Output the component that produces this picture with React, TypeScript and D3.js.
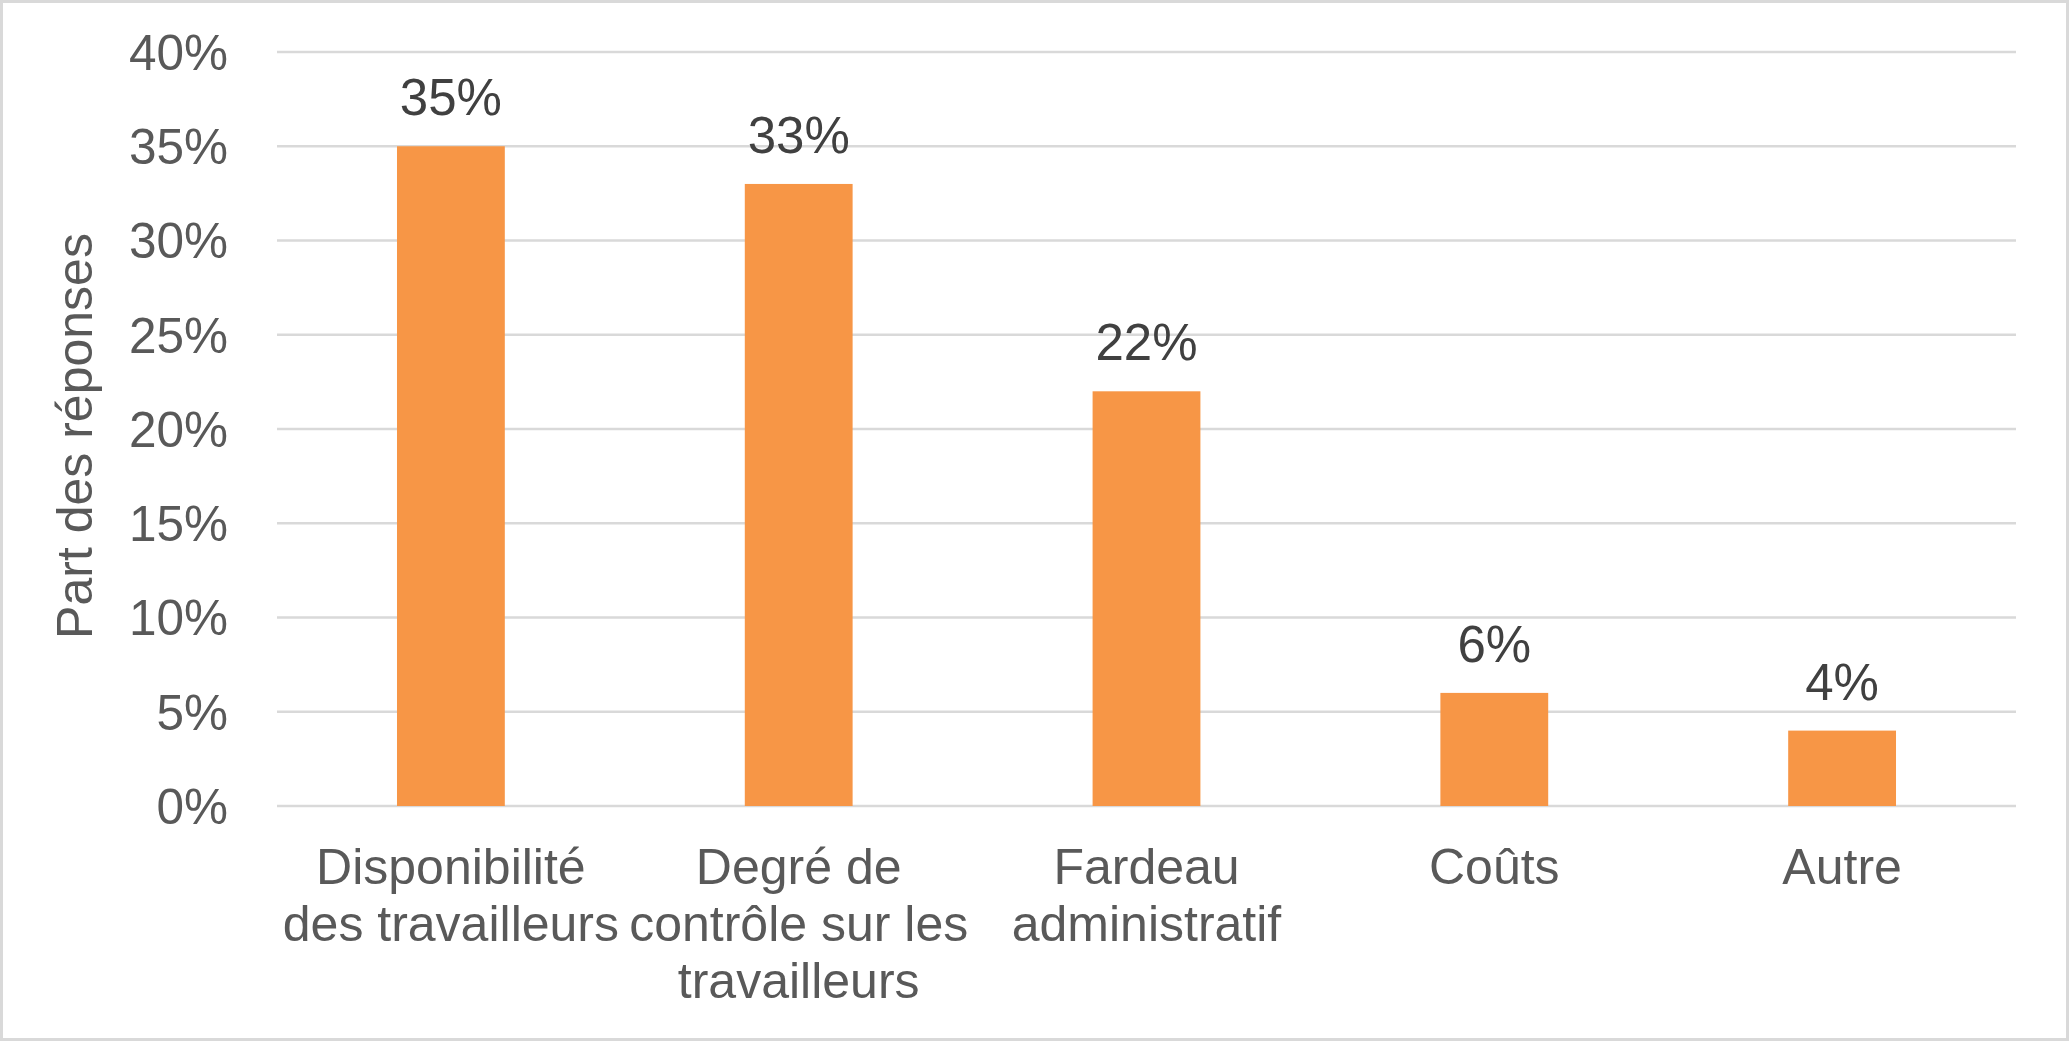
import React from "react";
import * as d3 from "d3";

const categories: string[] = [
  "Disponibilité des travailleurs",
  "Degré de contrôle sur les travailleurs",
  "Fardeau administratif",
  "Coûts",
  "Autre",
];
const categoryLines: string[][] = [
  ["Disponibilité", "des travailleurs"],
  ["Degré de", "contrôle sur les", "travailleurs"],
  ["Fardeau", "administratif"],
  ["Coûts"],
  ["Autre"],
];
const values: number[] = [0.35, 0.33, 0.22, 0.06, 0.04];
const yTicks: number[] = [0, 0.05, 0.1, 0.15, 0.2, 0.25, 0.3, 0.35, 0.4];
const yTitle = "Part des réponses";

const W = 2069;
const H = 1041;
const FONT = "'Liberation Sans', Arial, sans-serif";

export default function App() {
  const x = d3
    .scaleBand<string>()
    .domain(categories)
    .range([277, 2016])
    .paddingInner(0.69)
    .paddingOuter(0.345);
  const y = d3.scaleLinear().domain([0, 0.4]).range([806, 52]);
  const fmt = d3.format(".0%");

  return (
    <svg
      width={W}
      height={H}
      style={{ position: "absolute", left: 0, top: 0, background: "#fff" }}
      fontFamily={FONT}
    >
      <rect x={1.5} y={1.5} width={W - 3} height={H - 3} fill="#fff" stroke="#D9D9D9" strokeWidth={3} />
      {yTicks.map((t) => (
        <g key={t}>
          <line x1={277} x2={2016} y1={y(t)} y2={y(t)} stroke="#D9D9D9" strokeWidth={2.7} />
          <text x={228} y={y(t)} dy="0.36em" textAnchor="end" fontSize={49.5} fill="#595959">
            {fmt(t)}
          </text>
        </g>
      ))}
      {categories.map((c, i) => (
        <g key={c}>
          <rect
            x={x(c)}
            y={y(values[i])}
            width={x.bandwidth()}
            height={y(0) - y(values[i])}
            fill="#F79646"
          />
          <text
            x={(x(c) as number) + x.bandwidth() / 2}
            y={y(values[i]) - 31}
            textAnchor="middle"
            fontSize={51}
            fill="#404040"
          >
            {fmt(values[i])}
          </text>
          <text textAnchor="middle" fontSize={50} fill="#595959">
            {categoryLines[i].map((ln, j) => (
              <tspan key={j} x={(x(c) as number) + x.bandwidth() / 2} y={884 + j * 57}>
                {ln}
              </tspan>
            ))}
          </text>
        </g>
      ))}
      <text
        transform={`translate(92, ${(y(0) + y(0.4)) / 2 + 7}) rotate(-90)`}
        textAnchor="middle"
        fontSize={50}
        fill="#595959"
      >
        {yTitle}
      </text>
    </svg>
  );
}
